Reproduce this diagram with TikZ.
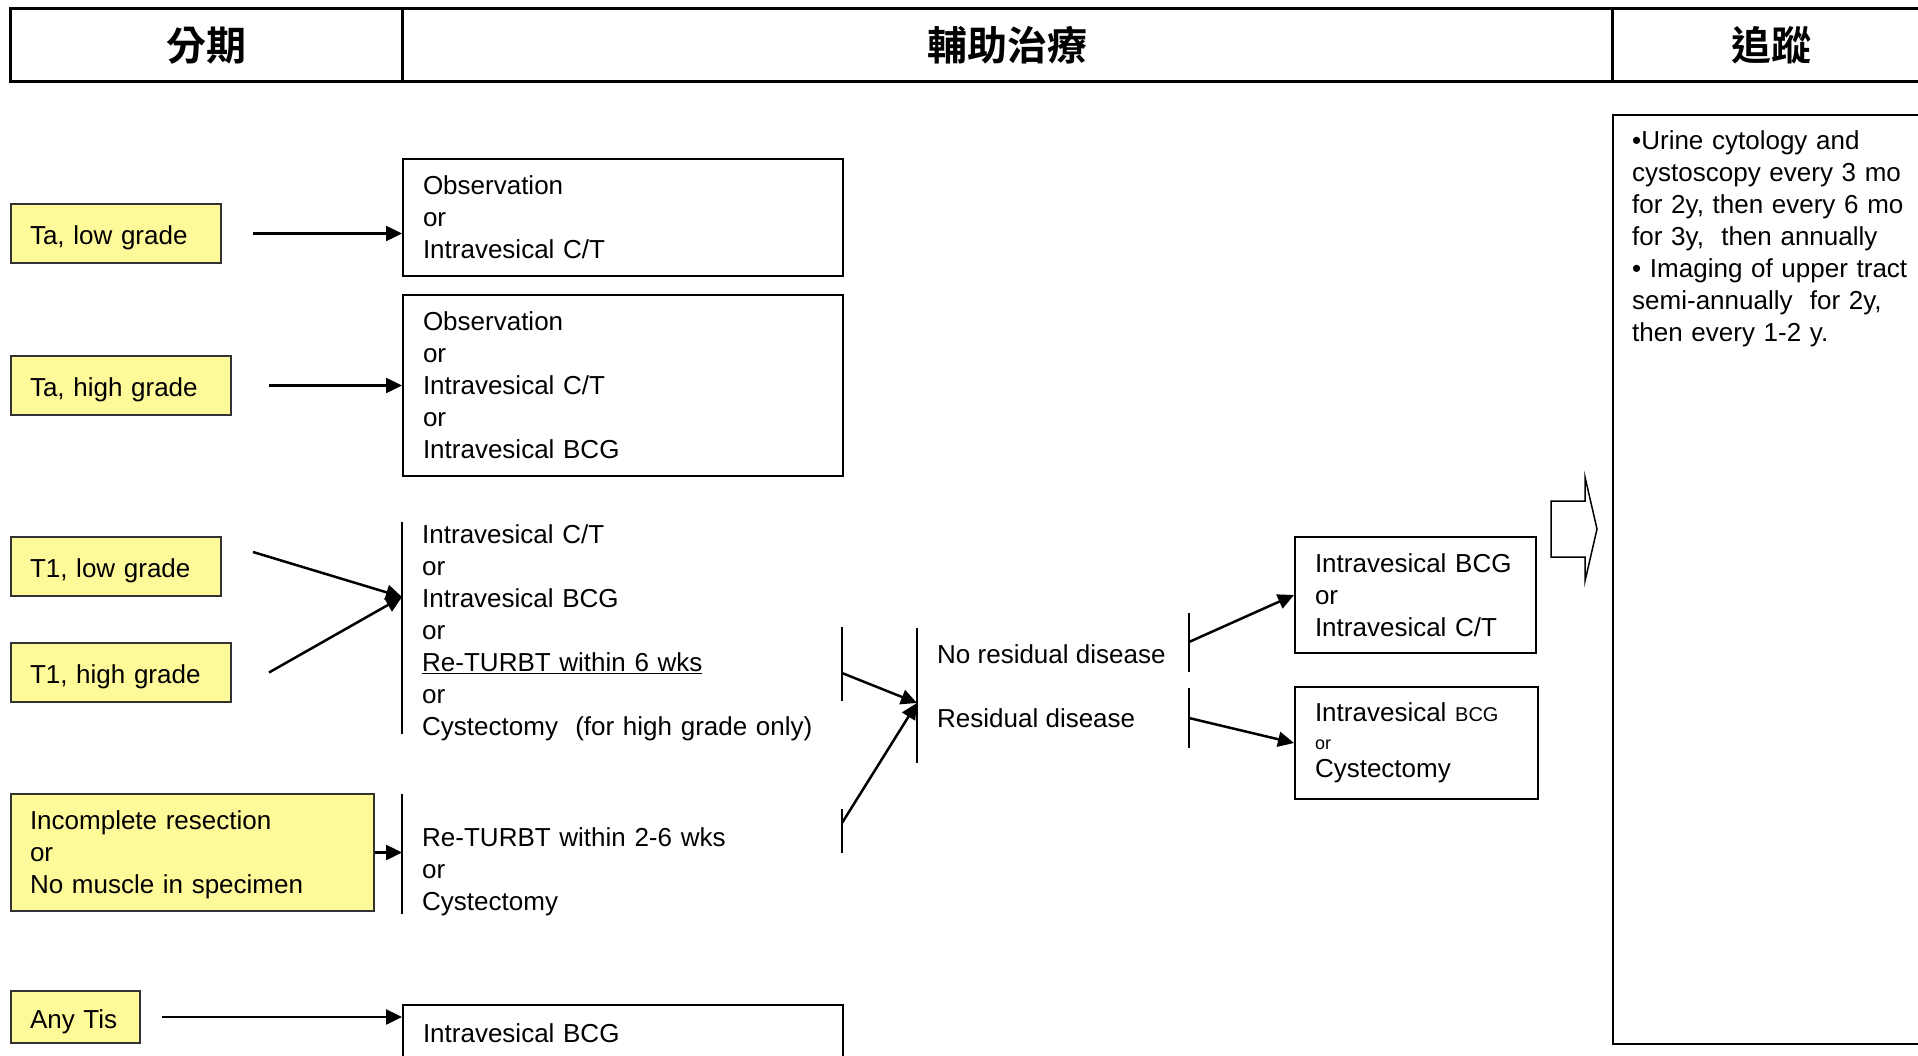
\documentclass[tikz,border=0pt]{standalone}
\usepackage{fontspec}
\setmainfont{Liberation Sans}
\newfontfamily\cjk{Noto Sans CJK TC Bold}
\usetikzlibrary{arrows.meta,positioning,calc}

\tikzset{
  stagebox/.style={draw=black!80, fill=yellow!40, line width=2pt, inner xsep=19pt, inner ysep=0pt, align=left, anchor=west},
  oneline/.style={text height=28pt, text depth=5.5pt},
  treatbox/.style={draw, line width=2pt, inner xsep=20pt, inner ysep=0pt, text width=400pt, align=left, anchor=west},
  optlist/.style={inner xsep=20pt, inner ysep=0pt, text width=400pt, align=left, anchor=west},
  headcell/.style={draw, line width=3pt, minimum height=73.5pt, inner sep=0pt, font=\cjk\fontsize{40}{44}\selectfont},
  flow/.style={line width=2.5pt, -{Triangle[length=16pt,width=15pt]}},
  brk/.style={line width=2pt}
}

\begin{document}
\begin{tikzpicture}[x=1pt, y=-1pt, font=\fontsize{26}{32}\selectfont]
  \useasboundingbox (0,0) rectangle (1918,1056);
  \clip (0,0) rectangle (1918,1056);

  % header
  \node[headcell, minimum width=392pt] (hstage) at (206,45.25) {分期};
  \node[headcell, minimum width=1210pt] (htreat) at (1007,45.25) {輔助治療};
  \node[headcell, minimum width=318pt] (hfollow) at (1771,45.25) {追蹤};

  % stages
  \node[stagebox, oneline, text width=172pt, minimum height=59pt] (talow) at (10,233.5) {Ta, low grade};
  \node[stagebox, oneline, text width=182pt, minimum height=59pt] (tahigh) at (10,385.5) {Ta, high grade};
  \node[stagebox, oneline, text width=172pt, minimum height=59pt] (t1low) at (10,566.5) {T1, low grade};
  \node[stagebox, oneline, text width=182pt, minimum height=59pt] (t1high) at (10,672.5) {T1, high grade};
  \node[stagebox, text width=325pt, minimum height=117pt] (incompl) at (10,852.5) {\rule{0pt}{24pt}Incomplete resection\\or\\No muscle in specimen};
  \node[stagebox, oneline, text width=91pt, minimum height=52pt] (anytis) at (10,1017) {Any Tis};

  % treatments
  \node[treatbox, minimum height=117pt] (obs1) at (402,217.5) {Observation\\or\\Intravesical C/T};
  \node[treatbox, minimum height=181pt] (obs2) at (402,385.5) {Observation\\or\\Intravesical C/T\\or\\Intravesical BCG};
  \node[optlist] (t1opts) at (402,632.5) {Intravesical C/T\\or\\Intravesical BCG\\or\\\underline{Re-TURBT within 6 wks}\\or\\Cystectomy\ \ (for high grade only)};
  \node[optlist] (returbt) at (402,872) {Re-TURBT within 2-6 wks\\or\\Cystectomy};
  \node[treatbox, minimum height=56pt] (tisbox) at (402,1033) {Intravesical BCG};

  \draw[brk] (402,522) -- (402,734);
  \draw[brk] (842,627) -- (842,701);
  \draw[brk] (402,794) -- (402,914);
  \draw[brk] (842,809) -- (842,853);

  % residual disease
  \draw[brk] (917,628) -- (917,763);
  \node[anchor=west, inner sep=0pt] (nores) at (937,654) {No residual disease};
  \node[anchor=west, inner sep=0pt] (res) at (937,718) {Residual disease};
  \draw[brk] (1189,613) -- (1189,672);
  \draw[brk] (1189,688) -- (1189,748);

  \node[treatbox, text width=201pt, minimum height=116pt] (rb1) at (1294,595) {Intravesical BCG\\or\\Intravesical C/T};
  \node[treatbox, text width=203pt, minimum height=112pt] (rb2) at (1294,743) {Intravesical {\fontsize{20}{28}\selectfont BCG}\\[-4pt]{\fontsize{18}{28}\selectfont or}\\[-4pt]Cystectomy};

  \coordinate (t1in) at ([yshift=35.5pt]t1opts.west);
  \coordinate (t1out) at (842,673);
  \coordinate (retout) at (842,823);
  \coordinate (midin) at (917,703);
  \coordinate (noresout) at (1189,642);
  \coordinate (resout) at (1189,718);

  \draw[flow] ([xshift=31pt]talow.east) -- (talow.east -| obs1.west);
  \draw[flow] ([xshift=37pt]tahigh.east) -- (obs2.west);
  \draw[flow] ([xshift=31pt,yshift=14.5pt]t1low.east) -- (t1in);
  \draw[flow] ([xshift=37pt]t1high.east) -- (t1in);
  \draw[flow] (incompl.east) -- (incompl.east -| returbt.west);
  \draw[flow] ([xshift=21pt]anytis.east) -- (anytis.east -| tisbox.west);
  \draw[flow] (t1out) -- (midin);
  \draw[flow] (retout) -- (midin);
  \draw[flow] (noresout) -- (rb1.west);
  \draw[flow] (resout) -- (rb2.west);

  % follow-up
  \draw[line width=1.5pt, fill=white] (1551,501) -- (1585,501) -- (1585,477) -- (1597,529) -- (1585,581) -- (1585,557) -- (1551,557) -- cycle;
  \node[draw, line width=2pt, anchor=north west, minimum width=330pt, minimum height=929pt, inner sep=0pt] (fupbox) at (1612,114) {};
  \node[anchor=north west, inner sep=0pt, text width=300pt, align=left] (fuptext) at (1632,130) {•Urine cytology and\\cystoscopy every 3 mo\\for 2y, then every 6 mo\\for 3y,\ \ then annually\\• Imaging of upper tract\\semi-annually\ \ for 2y,\\then every 1-2 y.};
\end{tikzpicture}
\end{document}
